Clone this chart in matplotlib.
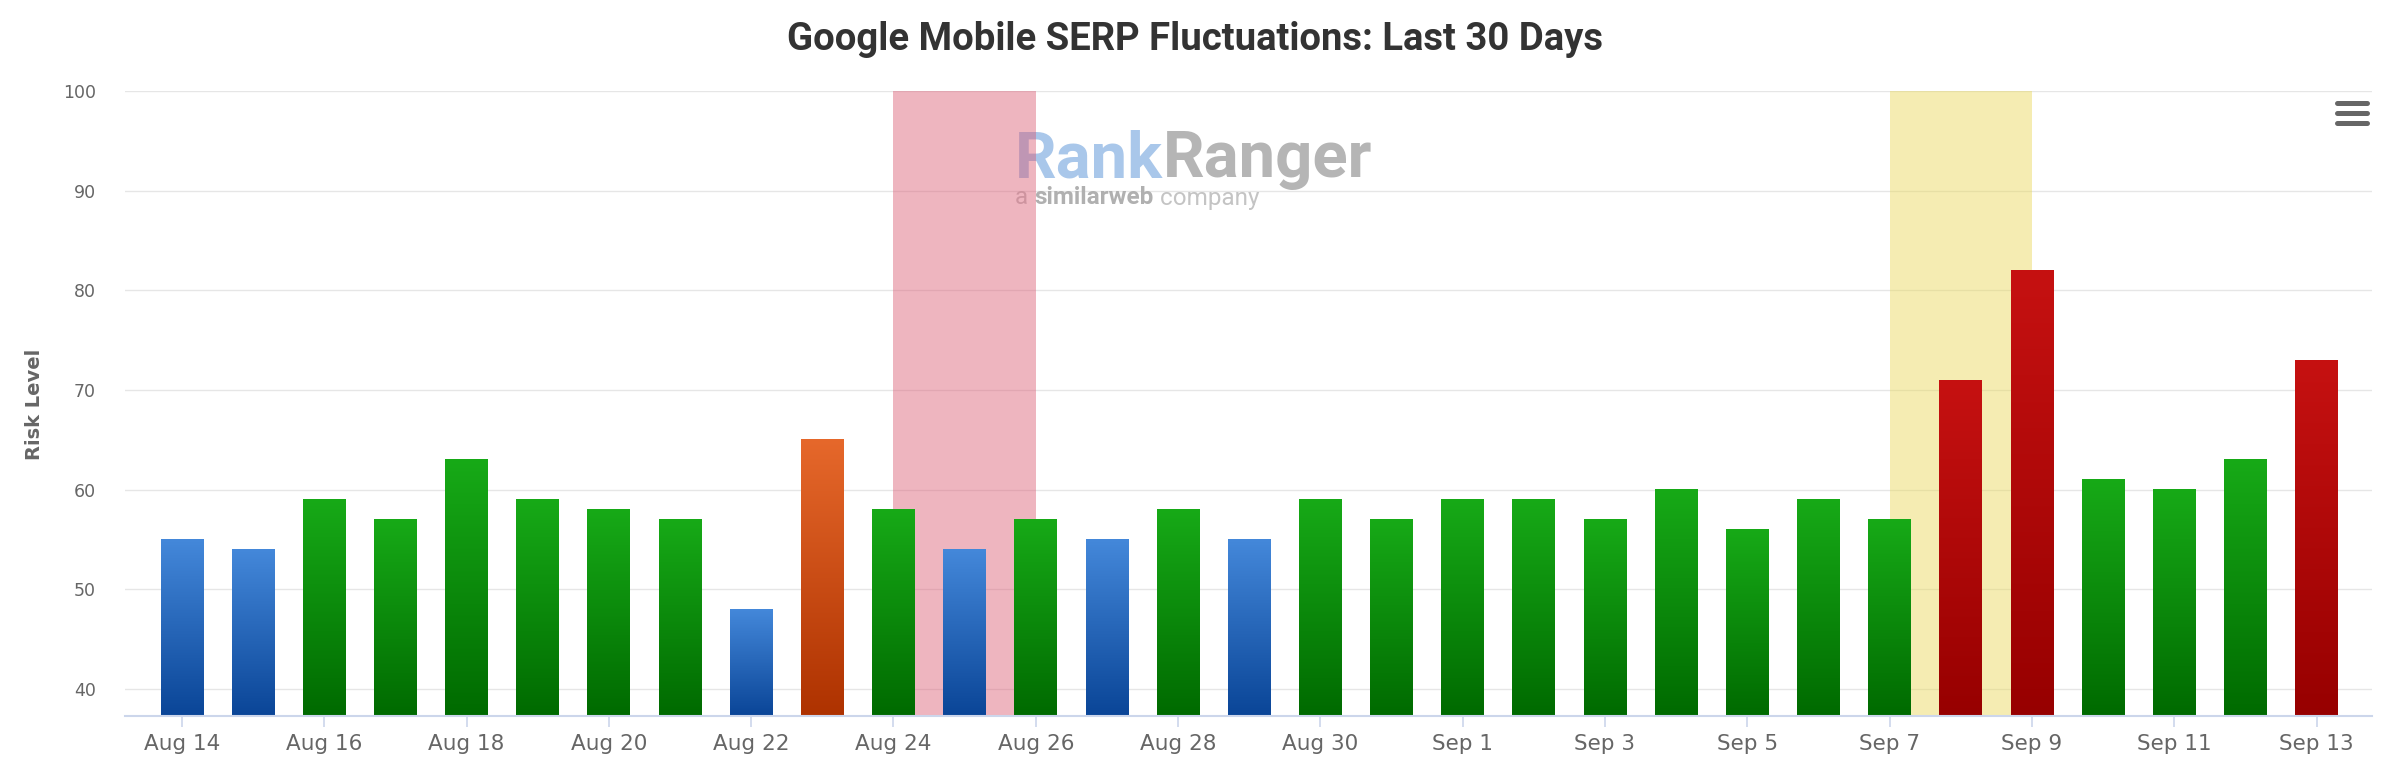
import matplotlib
matplotlib.use("Agg")
import matplotlib.pyplot as plt
import numpy as np
from matplotlib.colors import LinearSegmentedColormap
from matplotlib.lines import Line2D

# ---- data ----
dates = ["Aug 14", "Aug 15", "Aug 16", "Aug 17", "Aug 18", "Aug 19", "Aug 20", "Aug 21",
         "Aug 22", "Aug 23", "Aug 24", "Aug 25", "Aug 26", "Aug 27", "Aug 28", "Aug 29",
         "Aug 30", "Aug 31", "Sep 1", "Sep 2", "Sep 3", "Sep 4", "Sep 5", "Sep 6",
         "Sep 7", "Sep 8", "Sep 9", "Sep 10", "Sep 11", "Sep 12", "Sep 13"]
risk = [55, 54, 59, 57, 63, 59, 58, 57, 48, 65, 58, 54, 57, 55, 58, 55,
        59, 57, 59, 59, 57, 60, 56, 59, 57, 71, 82, 61, 60, 63, 73]
pink_band = ("Aug 24", "Aug 26")
yellow_band = ("Sep 7", "Sep 9")
yticks = [40, 50, 60, 70, 80, 90, 100]

# ---- styles ----
grad = {
    "blue": ("#4488da", "#0a4597"),
    "green": ("#17aa17", "#006a00"),
    "orange": ("#e6682b", "#ae3200"),
    "red": ("#c61111", "#970000"),
}

def level(v):
    if v <= 55:
        return "blue"
    if v < 65:
        return "green"
    if v < 70:
        return "orange"
    return "red"

W, H, DPI = 2390, 778, 100
fig = plt.figure(figsize=(W / DPI, H / DPI), dpi=DPI)
ax = fig.add_axes([125 / W, 1 - 716 / H, (2372 - 125) / W, (716 - 91) / H])

x = np.arange(len(dates))
ymin = 37.3
bw = 0.6

# grid
for t in yticks:
    ax.axhline(t, color="#e6e6e6", lw=1.0, zorder=0)

# watermark (behind bands)
wm_font = ["Roboto", "DejaVu Sans"]
t1 = ax.text(1015 / W, 1 - 160 / H, "Rank", ha="left", va="center", fontsize=47,
             fontweight="bold", color="#a9c7ea", family=wm_font,
             transform=fig.transFigure, zorder=0.5, clip_on=False)
fig.canvas.draw()
bb = t1.get_window_extent()
ax.text(bb.x1 / W, 1 - 160 / H, "Ranger", ha="left", va="center", fontsize=47,
        fontweight="bold", color="#b5b5b5", family=wm_font,
        transform=fig.transFigure, zorder=0.5, clip_on=False)
t3 = ax.text(1015 / W, 1 - 198 / H, "a ", ha="left", va="center", fontsize=17.5,
             color="#c4c4c4", family=wm_font, transform=fig.transFigure, zorder=0.5)
fig.canvas.draw()
bb3 = t3.get_window_extent()
t4 = ax.text(bb3.x1 / W, 1 - 198 / H, "similarweb", ha="left", va="center", fontsize=17.5,
             color="#b0b0b0", fontweight="bold", family=wm_font,
             transform=fig.transFigure, zorder=0.5)
fig.canvas.draw()
bb4 = t4.get_window_extent()
ax.text(bb4.x1 / W, 1 - 198 / H, " company", ha="left", va="center", fontsize=17.5,
        color="#c4c4c4", family=wm_font, transform=fig.transFigure, zorder=0.5)

# bands
idx = {d: i for i, d in enumerate(dates)}
ax.axvspan(idx[pink_band[0]], idx[pink_band[1]], color="#db5b73", alpha=0.45, lw=0, zorder=1)
ax.axvspan(idx[yellow_band[0]], idx[yellow_band[1]], color="#e9d756", alpha=0.45, lw=0, zorder=1)

# gradient bars
gimg = np.linspace(0, 1, 256).reshape(-1, 1)
for xi, v in zip(x, risk):
    top, bot = grad[level(v)]
    cmap = LinearSegmentedColormap.from_list("g", [bot, top])
    ax.imshow(gimg, extent=(xi - bw / 2, xi + bw / 2, ymin, v), origin="lower",
              cmap=cmap, aspect="auto", zorder=2, interpolation="bicubic")

ax.set_xlim(-0.8, len(dates) - 1 + 0.78)
ax.set_ylim(ymin, 100)

for s in ["top", "right", "left"]:
    ax.spines[s].set_visible(False)
ax.spines["bottom"].set_color("#ccd6eb")
ax.spines["bottom"].set_linewidth(1.5)
ax.spines["bottom"].set_zorder(3)

ax.set_xticks(x[::2])
ax.set_xticklabels(dates[::2])
ax.tick_params(axis="x", length=8, width=1.2, color="#ccd6eb", labelcolor="#666666",
               labelsize=15.5, pad=5)
ax.set_yticks(yticks)
ax.set_yticklabels([str(t) for t in yticks])
ax.tick_params(axis="y", length=0, labelcolor="#666666", labelsize=12.5, pad=21)

fig.text(34 / W, 1 - 404 / H, "Risk Level", rotation=90, ha="center", va="center",
         fontsize=14, fontweight="bold", color="#666666")

fig.text(0.5, 1 - 40 / H, "Google Mobile SERP Fluctuations: Last 30 Days", ha="center",
         va="center", fontsize=27.5, fontweight="bold", color="#333333",
         family=["Roboto", "DejaVu Sans"])

# menu icon
for yy in [103, 113, 123]:
    fig.add_artist(Line2D([2337 / W, 2367 / W], [1 - yy / H, 1 - yy / H], color="#666666",
                          lw=3.6, solid_capstyle="round", transform=fig.transFigure))

fig.savefig("out.png", dpi=DPI, facecolor="white")
